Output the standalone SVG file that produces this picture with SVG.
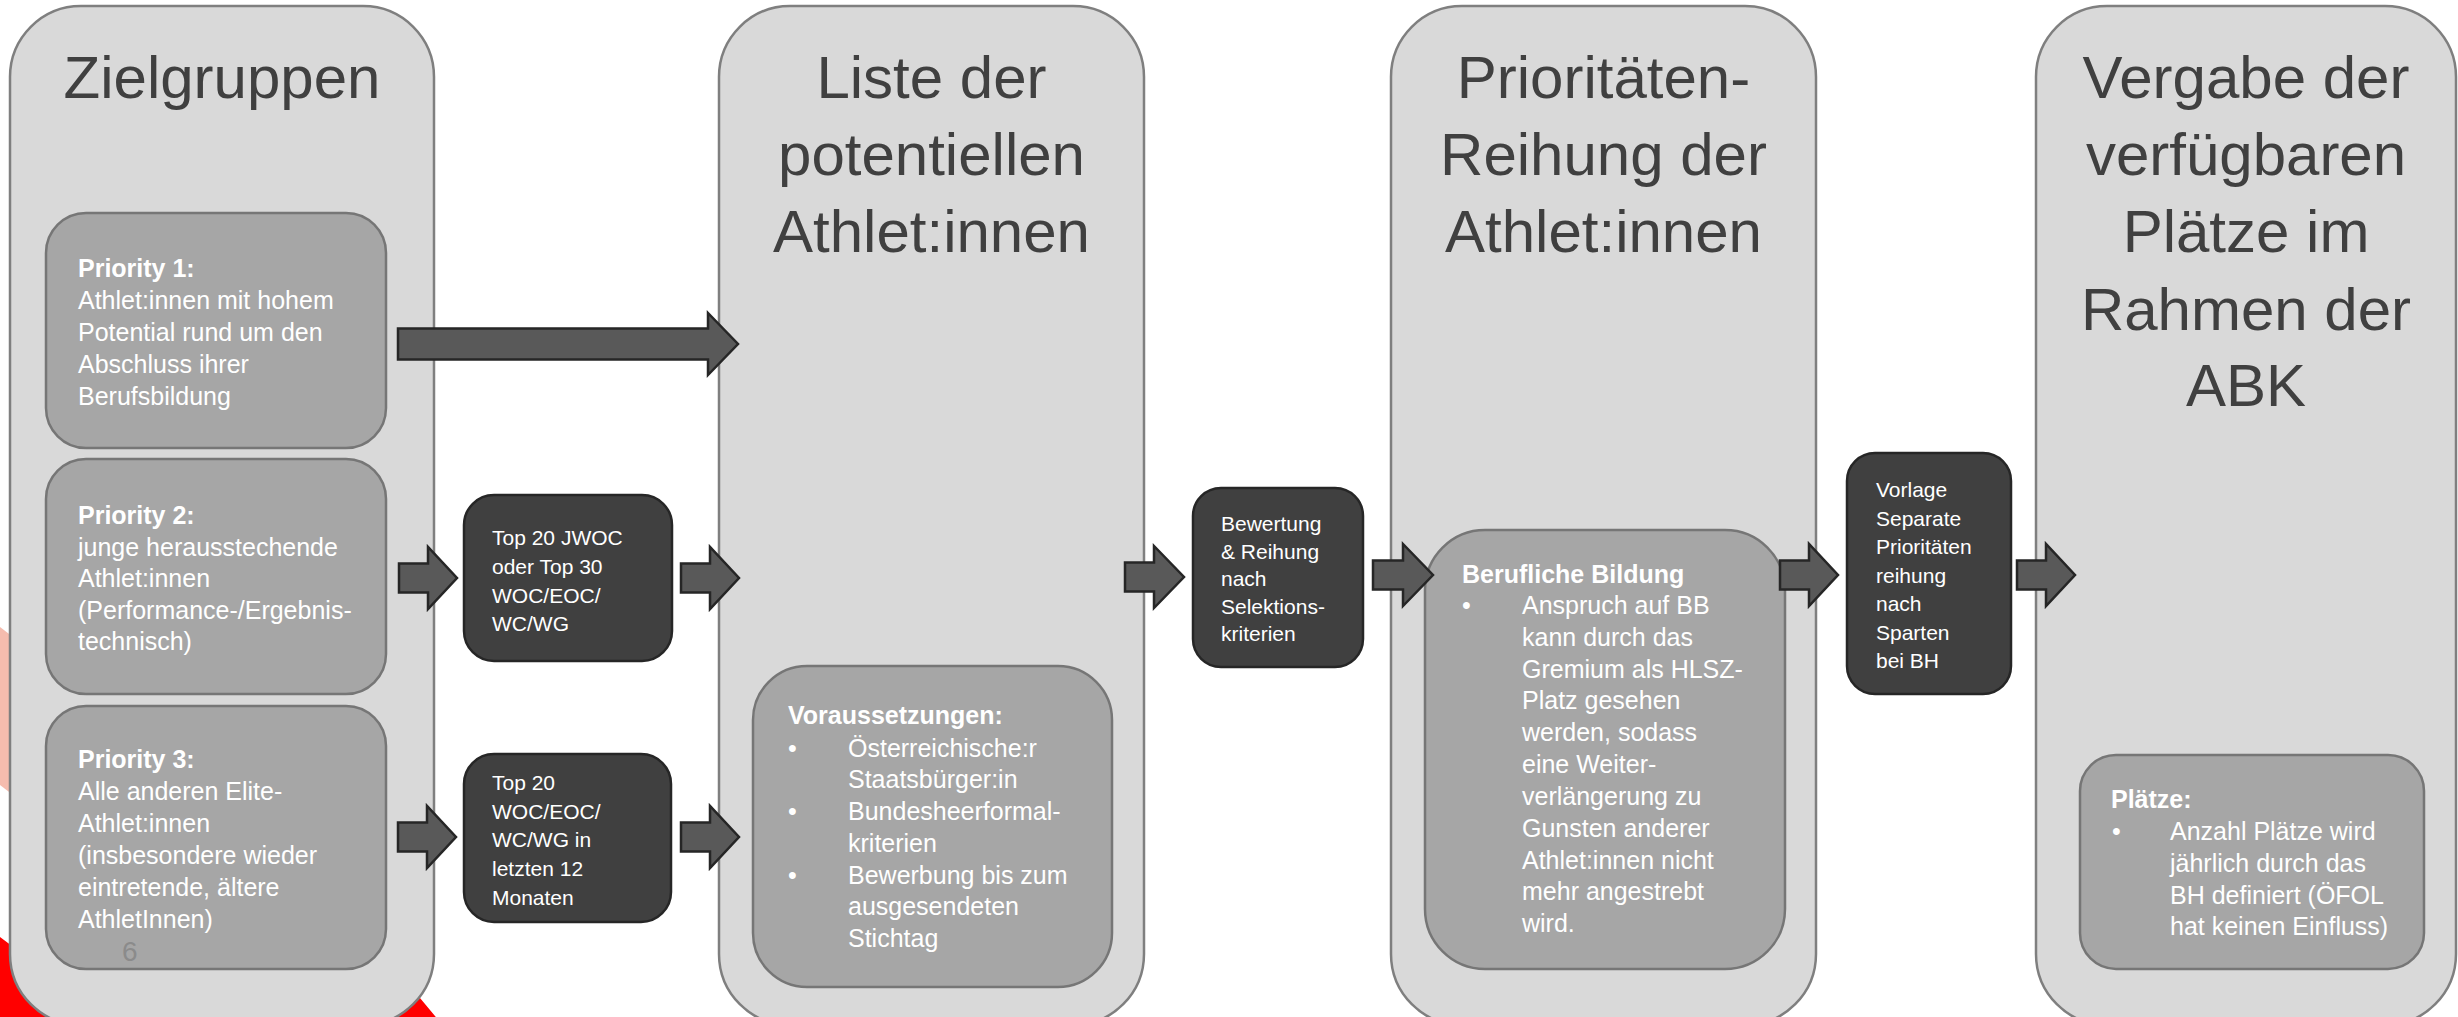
<svg xmlns="http://www.w3.org/2000/svg" width="2458" height="1017" viewBox="0 0 2458 1017">
<style>
.col{fill:#d9d9d9;stroke:#7f7f7f;stroke-width:2.5}
.mid{fill:#a6a6a6;stroke:#767676;stroke-width:2.5}
.dark{fill:#404040;stroke:#262626;stroke-width:2.5}
.arr{fill:#595959;stroke:#262626;stroke-width:2.5;stroke-linejoin:miter}
.title{font-family:"Liberation Sans",Arial,sans-serif;font-size:60px;fill:#404040;text-anchor:middle}
.t{font-family:"Liberation Sans",Arial,sans-serif;font-size:25px;fill:#ffffff}
.b{font-weight:bold}
.d{font-family:"Liberation Sans",Arial,sans-serif;font-size:21px;fill:#ffffff}
.num{font-family:"Liberation Sans",Arial,sans-serif;font-size:28px;fill:#8b8b8b}
</style>
<rect width="2458" height="1017" fill="#ffffff"/>
<g id="decoration">
<polygon points="0,627 30,650 30,808 0,785" fill="#f5bcae"/>
<polygon points="0,937 60,982 380,950 440,1022 0,1022" fill="#ff0000"/>
</g>
<g id="col-zielgruppen">
<rect class="col" x="10" y="6" width="424" height="1019" rx="71"/>
<text class="title" x="222" y="98">Zielgruppen</text>
</g>
<g id="col-liste">
<rect class="col" x="719" y="6" width="425" height="1019" rx="71"/>
<text class="title" x="931.5" y="98">Liste der</text>
<text class="title" x="931.5" y="175">potentiellen</text>
<text class="title" x="931.5" y="252">Athlet:innen</text>
</g>
<g id="col-prioritaeten">
<rect class="col" x="1391" y="6" width="425" height="1019" rx="71"/>
<text class="title" x="1603.5" y="98">Prioritäten-</text>
<text class="title" x="1603.5" y="175">Reihung der</text>
<text class="title" x="1603.5" y="252">Athlet:innen</text>
</g>
<g id="col-vergabe">
<rect class="col" x="2036" y="6" width="420" height="1019" rx="71"/>
<text class="title" x="2246" y="98">Vergabe der</text>
<text class="title" x="2246" y="175">verfügbaren</text>
<text class="title" x="2246" y="252">Plätze im</text>
<text class="title" x="2246" y="330">Rahmen der</text>
<text class="title" x="2246" y="406">ABK</text>
</g>
<g id="priority1">
<rect class="mid" x="46" y="213" width="340" height="235" rx="40"/>
<text class="t b" x="78" y="277">Priority 1:</text>
<text class="t" x="78" y="309">Athlet:innen mit hohem</text>
<text class="t" x="78" y="341">Potential rund um den</text>
<text class="t" x="78" y="373">Abschluss ihrer</text>
<text class="t" x="78" y="405">Berufsbildung</text>
</g>
<g id="priority2">
<rect class="mid" x="46" y="459" width="340" height="235" rx="40"/>
<text class="t b" x="78" y="524">Priority 2:</text>
<text class="t" x="78" y="555.5">junge herausstechende</text>
<text class="t" x="78" y="587">Athlet:innen</text>
<text class="t" x="78" y="618.5">(Performance-/Ergebnis-</text>
<text class="t" x="78" y="650">technisch)</text>
</g>
<g id="priority3">
<rect class="mid" x="46" y="706" width="340" height="263" rx="40"/>
<text class="t b" x="78" y="768">Priority 3:</text>
<text class="t" x="78" y="800">Alle anderen Elite-</text>
<text class="t" x="78" y="832">Athlet:innen</text>
<text class="t" x="78" y="864">(insbesondere wieder</text>
<text class="t" x="78" y="896">eintretende, ältere</text>
<text class="t" x="78" y="928">AthletInnen)</text>
<text class="num" x="122" y="961">6</text>
</g>
<g id="crit-top20jwoc">
<rect class="dark" x="464" y="495" width="208" height="166" rx="30"/>
<text class="d" x="492" y="545">Top 20 JWOC</text>
<text class="d" x="492" y="574">oder Top 30</text>
<text class="d" x="492" y="603">WOC/EOC/</text>
<text class="d" x="492" y="631">WC/WG</text>
</g>
<g id="crit-top20woc">
<rect class="dark" x="464" y="754" width="207" height="168" rx="30"/>
<text class="d" x="492" y="790">Top 20</text>
<text class="d" x="492" y="819">WOC/EOC/</text>
<text class="d" x="492" y="847">WC/WG in</text>
<text class="d" x="492" y="876">letzten 12</text>
<text class="d" x="492" y="905">Monaten</text>
</g>
<g id="voraussetzungen">
<rect class="mid" x="753" y="666" width="359" height="321" rx="54"/>
<text class="t b" x="788" y="724">Voraussetzungen:</text>
<text class="t" x="788" y="757">•</text>
<text class="t" x="848" y="757">Österreichische:r</text>
<text class="t" x="848" y="788">Staatsbürger:in</text>
<text class="t" x="788" y="820">•</text>
<text class="t" x="848" y="820">Bundesheerformal-</text>
<text class="t" x="848" y="852">kriterien</text>
<text class="t" x="788" y="884">•</text>
<text class="t" x="848" y="884">Bewerbung bis zum</text>
<text class="t" x="848" y="915">ausgesendeten</text>
<text class="t" x="848" y="947">Stichtag</text>
</g>
<g id="bewertung">
<rect class="dark" x="1193" y="488" width="170" height="179" rx="28"/>
<text class="d" x="1221" y="531">Bewertung</text>
<text class="d" x="1221" y="558.5">&amp; Reihung</text>
<text class="d" x="1221" y="586">nach</text>
<text class="d" x="1221" y="613.5">Selektions-</text>
<text class="d" x="1221" y="641">kriterien</text>
</g>
<g id="berufliche-bildung">
<rect class="mid" x="1425" y="530" width="360" height="439" rx="60"/>
<text class="t b" x="1462" y="583">Berufliche Bildung</text>
<text class="t" x="1462" y="614">•</text>
<text class="t" x="1522" y="614">Anspruch auf BB</text>
<text class="t" x="1522" y="646">kann durch das</text>
<text class="t" x="1522" y="678">Gremium als HLSZ-</text>
<text class="t" x="1522" y="709">Platz gesehen</text>
<text class="t" x="1522" y="741">werden, sodass</text>
<text class="t" x="1522" y="773">eine Weiter-</text>
<text class="t" x="1522" y="805">verlängerung zu</text>
<text class="t" x="1522" y="837">Gunsten anderer</text>
<text class="t" x="1522" y="869">Athlet:innen nicht</text>
<text class="t" x="1522" y="900">mehr angestrebt</text>
<text class="t" x="1522" y="932">wird.</text>
</g>
<g id="vorlage">
<rect class="dark" x="1847" y="453" width="164" height="241" rx="28"/>
<text class="d" x="1876" y="497">Vorlage</text>
<text class="d" x="1876" y="525.5">Separate</text>
<text class="d" x="1876" y="554">Prioritäten</text>
<text class="d" x="1876" y="582.5">reihung</text>
<text class="d" x="1876" y="611">nach</text>
<text class="d" x="1876" y="639.5">Sparten</text>
<text class="d" x="1876" y="668">bei BH</text>
</g>
<g id="plaetze">
<rect class="mid" x="2080" y="755" width="344" height="214" rx="36"/>
<text class="t b" x="2111" y="808">Plätze:</text>
<text class="t" x="2112" y="840">•</text>
<text class="t" x="2170" y="840">Anzahl Plätze wird</text>
<text class="t" x="2170" y="872">jährlich durch das</text>
<text class="t" x="2170" y="904">BH definiert (ÖFOL</text>
<text class="t" x="2170" y="935">hat keinen Einfluss)</text>
</g>
<g id="connectors">
<path class="arr" d="M398,328.5 L708,328.5 L708,313 L738,344 L708,375 L708,359.5 L398,359.5 Z"/>
<path class="arr" d="M399,563.5 L428,563.5 L428,547 L457,578 L428,609 L428,592.5 L399,592.5 Z"/>
<path class="arr" d="M681,563.5 L710,563.5 L710,547 L739,578 L710,609 L710,592.5 L681,592.5 Z"/>
<path class="arr" d="M398,822.5 L427,822.5 L427,806 L456,837 L427,868 L427,851.5 L398,851.5 Z"/>
<path class="arr" d="M681,822.5 L710,822.5 L710,806 L739,837 L710,868 L710,851.5 L681,851.5 Z"/>
<path class="arr" d="M1125,562.5 L1154,562.5 L1154,546 L1184,577 L1154,608 L1154,591.5 L1125,591.5 Z"/>
<path class="arr" d="M1373,560.5 L1403,560.5 L1403,544 L1433,575 L1403,606 L1403,589.5 L1373,589.5 Z"/>
<path class="arr" d="M1780,560.5 L1809,560.5 L1809,544 L1838,575 L1809,606 L1809,589.5 L1780,589.5 Z"/>
<path class="arr" d="M2017,560.5 L2046,560.5 L2046,544 L2075,575 L2046,606 L2046,589.5 L2017,589.5 Z"/>
</g>
</svg>
